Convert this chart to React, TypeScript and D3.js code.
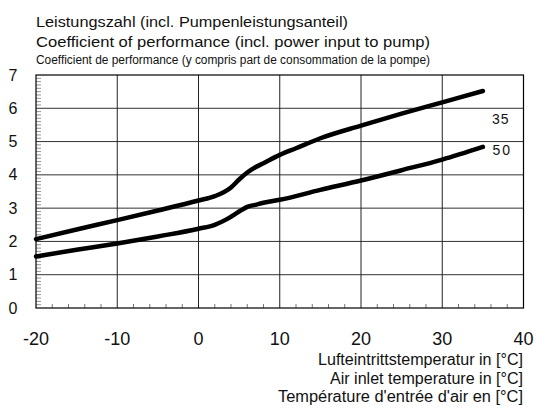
import React from "react";
import * as d3 from "d3";

const temps35 = [-20, -15, -10, -5, 0, 2, 4, 5, 6, 7, 8, 10, 12, 15, 20, 25, 30, 35];
const cop35 = [2.07, 2.36, 2.64, 2.93, 3.23, 3.36, 3.62, 3.86, 4.07, 4.23, 4.35, 4.6, 4.8, 5.1, 5.48, 5.84, 6.18, 6.52];
const temps50 = [-20, -15, -10, -5, 0, 2, 3.5, 5, 6, 7, 8, 10, 15, 20, 25, 30, 35];
const cop50 = [1.55, 1.75, 1.94, 2.15, 2.38, 2.5, 2.67, 2.9, 3.04, 3.1, 3.16, 3.25, 3.55, 3.83, 4.14, 4.46, 4.84];
const xTicks = [-20, -10, 0, 10, 20, 30, 40];
const yTicks = [0, 1, 2, 3, 4, 5, 6, 7];
const seriesLabels = ["35", "50"];
const titleLines = [
  "Leistungszahl (incl. Pumpenleistungsanteil)",
  "Coefficient of performance (incl. power input to pump)",
  "Coefficient de performance (y compris part de consommation de la pompe)",
];
const titleWidths = [312, 394, 394];
const xTitleLines = [
  "Lufteintrittstemperatur in [°C]",
  "Air inlet temperature in [°C]",
  "Température d'entrée d'air en [°C]",
];
const xTitleWidths = [205, 193, 245];

export default function App() {
  const W = 537, H = 412;
  const x = d3.scaleLinear().domain([-20, 40]).range([36, 523.5]);
  const y = d3.scaleLinear().domain([0, 7]).range([308, 75]);
  const line = d3
    .line<[number, number]>()
    .x((d) => x(d[0]))
    .y((d) => y(d[1]))
    .curve(d3.curveMonotoneX);
  const s35 = temps35.map((t, i) => [t, cop35[i]] as [number, number]);
  const s50 = temps50.map((t, i) => [t, cop50[i]] as [number, number]);
  const font = "'Liberation Sans', Arial, sans-serif";
  const yMinor = d3.range(0, 70).map((i) => i / 10).filter((v) => Math.abs(v - Math.round(v)) > 1e-6);
  const xMinor = d3.range(-20, 41, 2).filter((v) => v % 10 !== 0);

  return (
    <svg
      width={W}
      height={H}
      style={{ position: "absolute", left: 0, top: 0, background: "#fff" }}
      fontFamily={font}
    >
      {/* titles */}
      <text x={36} y={26.5} fontSize={15.5} fill="#111" textLength={titleWidths[0]} lengthAdjust="spacingAndGlyphs">{titleLines[0]}</text>
      <text x={36} y={46.5} fontSize={15.5} fill="#111" textLength={titleWidths[1]} lengthAdjust="spacingAndGlyphs">{titleLines[1]}</text>
      <text x={36} y={63.5} fontSize={12.5} fill="#111" textLength={titleWidths[2]} lengthAdjust="spacingAndGlyphs">
        {titleLines[2]}
      </text>

      {/* grid */}
      {yTicks.slice(1, -1).map((v) => (
        <line key={"gy" + v} x1={x(-20)} x2={x(40)} y1={y(v)} y2={y(v)} stroke="#333" strokeWidth={1} />
      ))}
      {xTicks.slice(1, -1).map((v) => (
        <line key={"gx" + v} x1={x(v)} x2={x(v)} y1={y(0)} y2={y(7)} stroke="#222" strokeWidth={1} />
      ))}
      {/* minor ticks */}
      {yMinor.map((v) => (
        <line key={"my" + v} x1={x(-20)} x2={x(-20) + 5} y1={y(v)} y2={y(v)} stroke="#777" strokeWidth={0.8} />
      ))}
      {xMinor.map((v) => (
        <line key={"mx" + v} x1={x(v)} x2={x(v)} y1={y(0)} y2={y(0) - 4} stroke="#555" strokeWidth={0.8} />
      ))}
      {/* frame */}
      <rect x={x(-20)} y={y(7)} width={x(40) - x(-20)} height={y(0) - y(7)} fill="none" stroke="#000" strokeWidth={1.2} />

      {/* curves */}
      <path d={line(s35) || ""} fill="none" stroke="#000" strokeWidth={4.5} strokeLinecap="round" />
      <path d={line(s50) || ""} fill="none" stroke="#000" strokeWidth={4.5} strokeLinecap="round" />
      <text x={492} y={123.5} fontSize={14} fill="#111" letterSpacing={1}>{seriesLabels[0]}</text>
      <text x={492.5} y={155} fontSize={14} fill="#111" letterSpacing={2}>{seriesLabels[1]}</text>

      {/* tick labels */}
      {yTicks.map((v) => (
        <text key={"ty" + v} x={13} y={y(v) + 5.5} fontSize={16} textAnchor="middle" fill="#111">{v}</text>
      ))}
      {xTicks.map((v) => (
        <text key={"tx" + v} x={x(v)} y={345} fontSize={18} textAnchor="middle" fill="#111">{v}</text>
      ))}

      {/* x title */}
      {xTitleLines.map((t, i) => (
        <text key={"xt" + i} x={523} y={365 + i * 18.5} fontSize={16} textAnchor="end" fill="#111"
          textLength={xTitleWidths[i]} lengthAdjust="spacingAndGlyphs">{t}</text>
      ))}
    </svg>
  );
}
